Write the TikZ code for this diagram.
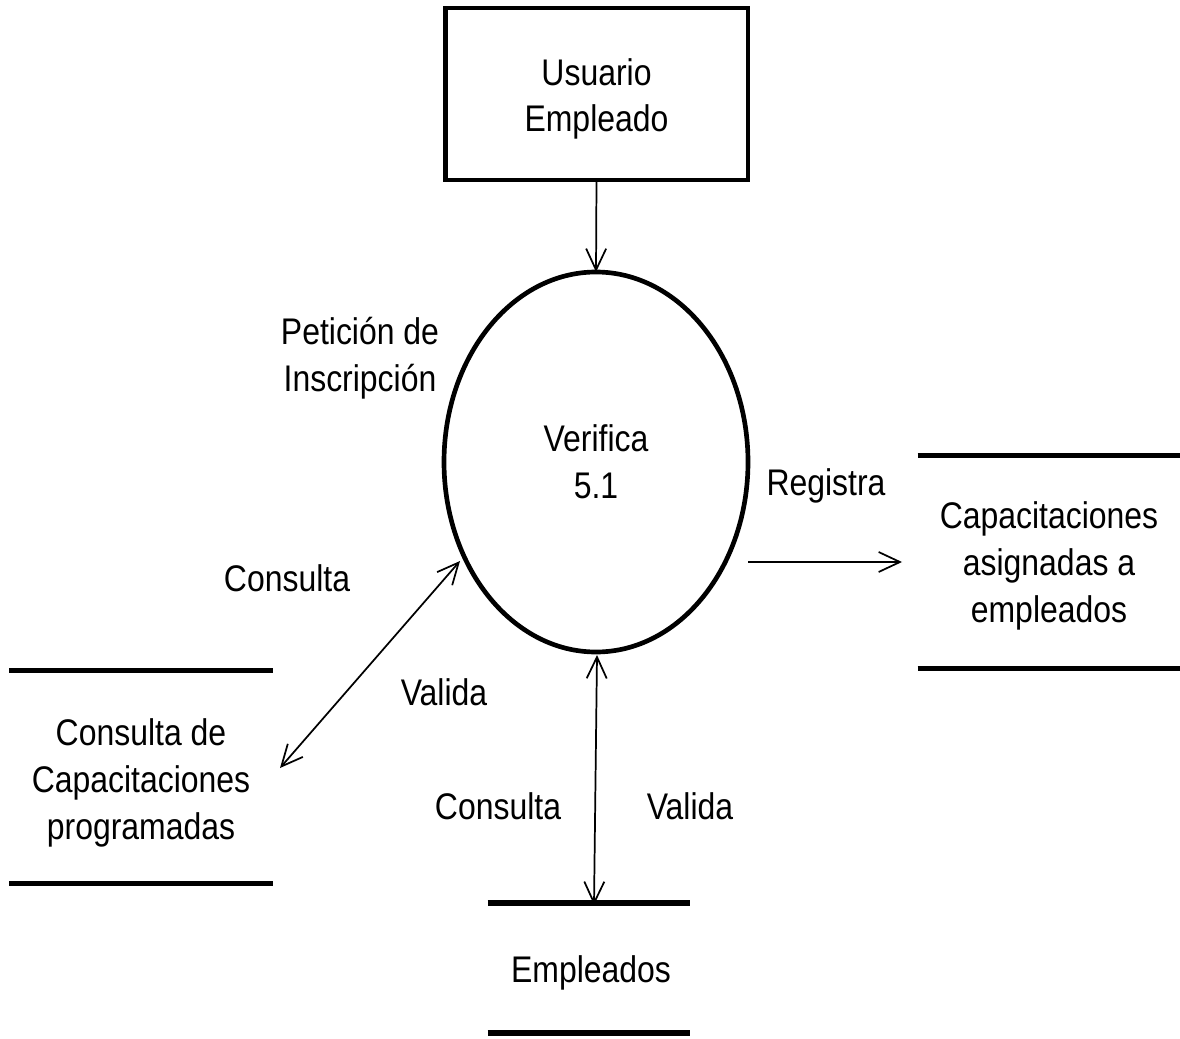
\documentclass[tikz,border=0pt]{standalone}
\usepackage{fontspec}
\setmainfont{Liberation Sans}[FakeStretch=0.862]
\usetikzlibrary{shapes.geometric,arrows.meta}
\begin{document}
\begin{tikzpicture}[x=0.75pt,y=-0.75pt,
  dfdtip/.tip={Straight Barb[length=16pt,width=15pt,line width=1.3pt]},
  txt/.style={font=\fontsize{27.8}{35}\selectfont, align=center, inner sep=0pt},
  heavy/.style={line width=3.5pt},
  storeline/.style={line width=4.2pt},
  storebox/.style={rectangle, inner sep=0pt, outer sep=0pt},
  flow/.style={line width=1.3pt, -{dfdtip}},
  biflow/.style={line width=1.3pt, {dfdtip}-{dfdtip}}]
\useasboundingbox (0,0) rectangle (1180,1038);
\fill[white] (0,0) rectangle (1180,1038);

% external entity
\node[draw, heavy, rectangle, minimum width=227pt, minimum height=129pt,
      outer sep=0pt] (user) at (596.5,94) {};
\node[txt] (usertext) at (596.5,99) {Usuario\\Empleado};

% process
\node[draw, heavy, ellipse, minimum width=228pt, minimum height=285pt,
      inner sep=0pt, outer sep=0pt, txt] (proc) at (596,462) {Verifica\\5.1};

% data stores
\node[storebox, minimum width=197pt, minimum height=160pt] (asig) at (1049,562) {};
\node[txt] (asigtext) at (1049,566) {Capacitaciones\\asignadas a\\empleados};
\draw[storeline] (asig.north west) -- (asig.north east);
\draw[storeline] (asig.south west) -- (asig.south east);

\node[storebox, minimum width=198pt, minimum height=160pt] (prog) at (141,777) {};
\node[txt] (progtext) at (141,783) {Consulta de\\Capacitaciones\\programadas};
\draw[storeline] (prog.north west) -- (prog.north east);
\draw[storeline] (prog.south west) -- (prog.south east);

\node[storebox, minimum width=152pt, minimum height=97.5pt] (emp) at (589,968) {};
\node[txt] (emptext) at (591,973) {Empleados};
\draw[storeline] (emp.north west) -- (emp.north east);
\draw[storeline] (emp.south west) -- (emp.south east);

% connector end points
\coordinate (regA) at (748,562);
\coordinate (regB) at (902,562);
\coordinate (progA) at (460,561);
\coordinate (progB) at (280,768);
\coordinate (empA) at (597,655);
\coordinate (empB) at (594,905);

% connectors
\draw[flow] (user.south) -- (proc.north);
\draw[flow] (regA) -- (regB);
\draw[biflow] (progB) -- (progA);
\draw[biflow] (empB) -- (empA);

% labels
\node[txt] (lpet) at (360,358) {Petición de\\Inscripción};
\node[txt] (lreg) at (826,486) {Registra};
\node[txt] (lcon1) at (287,578) {Consulta};
\node[txt] (lval1) at (444,692) {Valida};
\node[txt] (lcon2) at (498,806) {Consulta};
\node[txt] (lval2) at (690,806) {Valida};
\end{tikzpicture}
\end{document}
